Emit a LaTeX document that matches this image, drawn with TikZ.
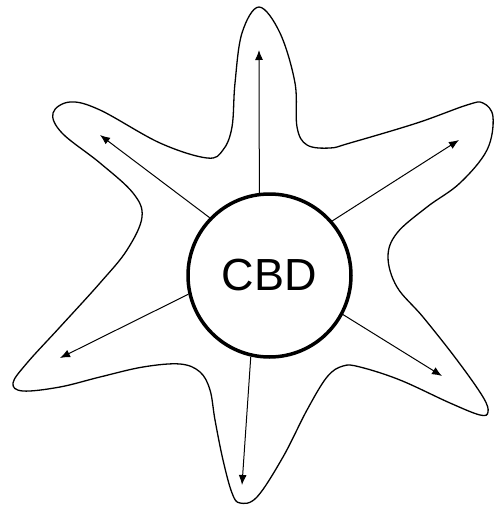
\documentclass[tikz,border=0pt]{standalone}
\usepackage{fontspec}
\setmainfont{Liberation Sans}
\usetikzlibrary{arrows.meta}

\begin{document}
\begin{tikzpicture}[
        x=1pt,y=-1pt,
        every node/.append style={font=\fontsize{45}{50}\selectfont}
    ]
    \tikzstyle{cbdnode}=[draw,shape=circle,line width=3.5pt,minimum size=163pt,inner sep=0pt,fill=white];
    \tikzstyle{spread}=[line width=1pt,-{Latex[length=10pt,width=8pt]}];
    \useasboundingbox (0,0) rectangle (494,506);
    % outline
    \draw[line width=1.3pt] plot[smooth cycle,tension=0.6] coordinates {
        (259,7) (280,33) (295,83) (297,127) (307,145) (330,148) (350,143)
        (417,123) (467,105) (483,103) (493,117) (487,150) (460,183) (427,207)
        (397,233) (388,257) (397,287) (423,317) (457,360) (483,397) (488,412)
        (480,415) (450,403) (400,380) (360,367) (343,366) (327,377) (307,410)
        (283,457) (257,497) (240,503) (232,493) (223,460) (215,420) (210,390)
        (200,372) (180,364) (143,367) (100,377) (60,387) (23,391) (13,383)
        (27,363) (60,327) (100,283) (127,250) (142,217) (133,193) (100,163)
        (62,133) (53,113) (70,102) (100,110) (160,143) (207,158) (223,150)
        (232,127) (235,83) (242,33)};
    % centre
    \node[cbdnode] (cbd) at (269.5,275.5) {CBD};
    % tips
    \coordinate (n) at (259,50);
    \coordinate (nw) at (100,135);
    \coordinate (ne) at (459,140);
    \coordinate (sw) at (60,358);
    \coordinate (se) at (442,376);
    \coordinate (s) at (242,485);
    % arrows
    \draw[spread] (cbd.97) -- (n);
    \draw[spread] (cbd.136) -- (nw);
    \draw[spread] (cbd.41) -- (ne);
    \draw[spread] (cbd.193) -- (sw);
    \draw[spread] (cbd.332) -- (se);
    \draw[spread] (cbd.257) -- (s);
\end{tikzpicture}
\end{document}
